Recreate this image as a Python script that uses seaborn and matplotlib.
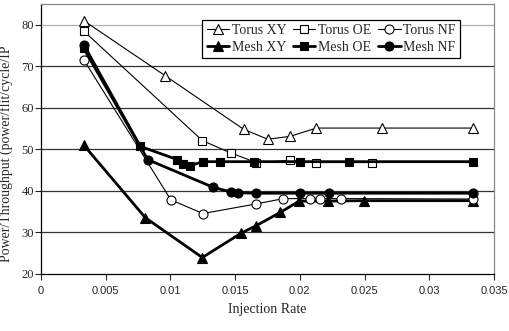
import matplotlib
matplotlib.use("Agg")
import matplotlib.pyplot as plt
import seaborn as sns
import pandas as pd

# ---- data ----
torus_xy_x = [0.0033, 0.0096, 0.01566, 0.01752, 0.01924, 0.02128, 0.02635, 0.03339]
torus_xy_y = [81.0, 67.7, 54.8, 52.4, 53.1, 55.1, 55.1, 55.1]

torus_oe_x = [0.0033, 0.01246, 0.01466, 0.01663, 0.0192, 0.02128, 0.02556]
torus_oe_y = [78.5, 52.1, 49.1, 46.8, 47.3, 46.8, 46.8]

torus_nf_x = [0.0033, 0.01003, 0.01251, 0.0166, 0.01873, 0.02078, 0.02154, 0.0232, 0.0334]
torus_nf_y = [71.6, 37.8, 34.5, 36.8, 38.1, 38.1, 38.1, 38.1, 38.0]

mesh_xy_x = [0.0033, 0.00806, 0.01246, 0.01548, 0.01664, 0.01850, 0.01995, 0.02220, 0.02496, 0.0334]
mesh_xy_y = [51.0, 33.5, 23.9, 29.8, 31.6, 34.8, 37.5, 37.5, 37.6, 37.6]

mesh_oe_x = [0.0033, 0.00765, 0.01054, 0.0110, 0.01149, 0.01251, 0.01382, 0.01643, 0.02001, 0.0238, 0.0334]
mesh_oe_y = [74.3, 50.7, 47.5, 46.5, 46.0, 47.0, 47.0, 47.0, 47.0, 47.0, 47.0]

mesh_nf_x = [0.0033, 0.00824, 0.01332, 0.01467, 0.01525, 0.0166, 0.02001, 0.02226, 0.0334]
mesh_nf_y = [75.2, 47.5, 40.8, 39.7, 39.5, 39.4, 39.4, 39.4, 39.4]

series_names = ["Torus XY", "Mesh XY", "Torus OE", "Mesh OE", "Torus NF", "Mesh NF"]
x_ticks = [0, 0.005, 0.01, 0.015, 0.02, 0.025, 0.03, 0.035]
x_tick_labels = ["0", "0.005", "0.01", "0.015", "0.02", "0.025", "0.03", "0.035"]
y_ticks = [20, 30, 40, 50, 60, 70, 80]

data = {
    "Torus XY": (torus_xy_x, torus_xy_y),
    "Mesh XY": (mesh_xy_x, mesh_xy_y),
    "Torus OE": (torus_oe_x, torus_oe_y),
    "Mesh OE": (mesh_oe_x, mesh_oe_y),
    "Torus NF": (torus_nf_x, torus_nf_y),
    "Mesh NF": (mesh_nf_x, mesh_nf_y),
}

styles = {
    "Torus XY": dict(marker="^", mfc="white", lw=0.8, ms=6.5),
    "Mesh XY": dict(marker="^", mfc="black", lw=2.0, ms=6.5),
    "Torus OE": dict(marker="s", mfc="white", lw=0.8, ms=6),
    "Mesh OE": dict(marker="s", mfc="black", lw=2.0, ms=6),
    "Torus NF": dict(marker="o", mfc="white", lw=0.8, ms=6.5),
    "Mesh NF": dict(marker="o", mfc="black", lw=2.0, ms=6.5),
}

sns.set_theme(style="white")
plt.rcParams["font.family"] = ["Liberation Serif", "DejaVu Serif"]

fig = plt.figure(figsize=(5.10, 3.31), dpi=100)
ax = fig.add_axes([41 / 510, 1 - 273.7 / 331, 453 / 510, 269.7 / 331])

for name in series_names:
    xs, ys = data[name]
    df = pd.DataFrame({"x": xs, "y": ys})
    st = styles[name]
    sns.lineplot(data=df, x="x", y="y", ax=ax, color="black", linewidth=st["lw"],
                 marker=st["marker"], markersize=st["ms"], markerfacecolor=st["mfc"],
                 markeredgecolor="black", markeredgewidth=0.8, label=name,
                 sort=False, estimator=None, zorder=3)

ax.set_xlim(0, 0.035)
ax.set_ylim(20, 85)
ax.set_xticks(x_ticks)
ax.set_xticklabels(x_tick_labels, family="Liberation Sans", fontsize=8)
ax.set_yticks(y_ticks)
ax.tick_params(axis="y", labelsize=9, length=4, width=0.8, direction="out", left=True, pad=1)
ax.tick_params(axis="x", length=4, width=0.8, direction="out", bottom=True, pad=5)

for yv in y_ticks[1:]:
    col = "#b0b0b0" if yv == 80 else "#333333"
    ax.axhline(yv, color=col, linewidth=0.9, zorder=1)

for s in ["left", "bottom"]:
    ax.spines[s].set_color("black")
    ax.spines[s].set_linewidth(0.9)
for s in ["top", "right"]:
    ax.spines[s].set_color("#888888")
    ax.spines[s].set_linewidth(0.9)

ax.set_xlabel("Injection Rate", fontsize=10, labelpad=5)
ax.set_ylabel("Power/Throughput (power/flit/cycle/IP", fontsize=10)
ax.yaxis.set_label_coords(-0.062, 0.445)

leg = ax.legend(loc="upper right", bbox_to_anchor=(0.925, 0.94), ncol=3, fontsize=10,
                frameon=True, fancybox=False, edgecolor="black", framealpha=1,
                handlelength=1.6, handletextpad=0.2, columnspacing=0.5,
                labelspacing=0.25, borderpad=0.3, borderaxespad=0)
leg.get_frame().set_linewidth(0.9)

fig.savefig("out.png", dpi=100)
